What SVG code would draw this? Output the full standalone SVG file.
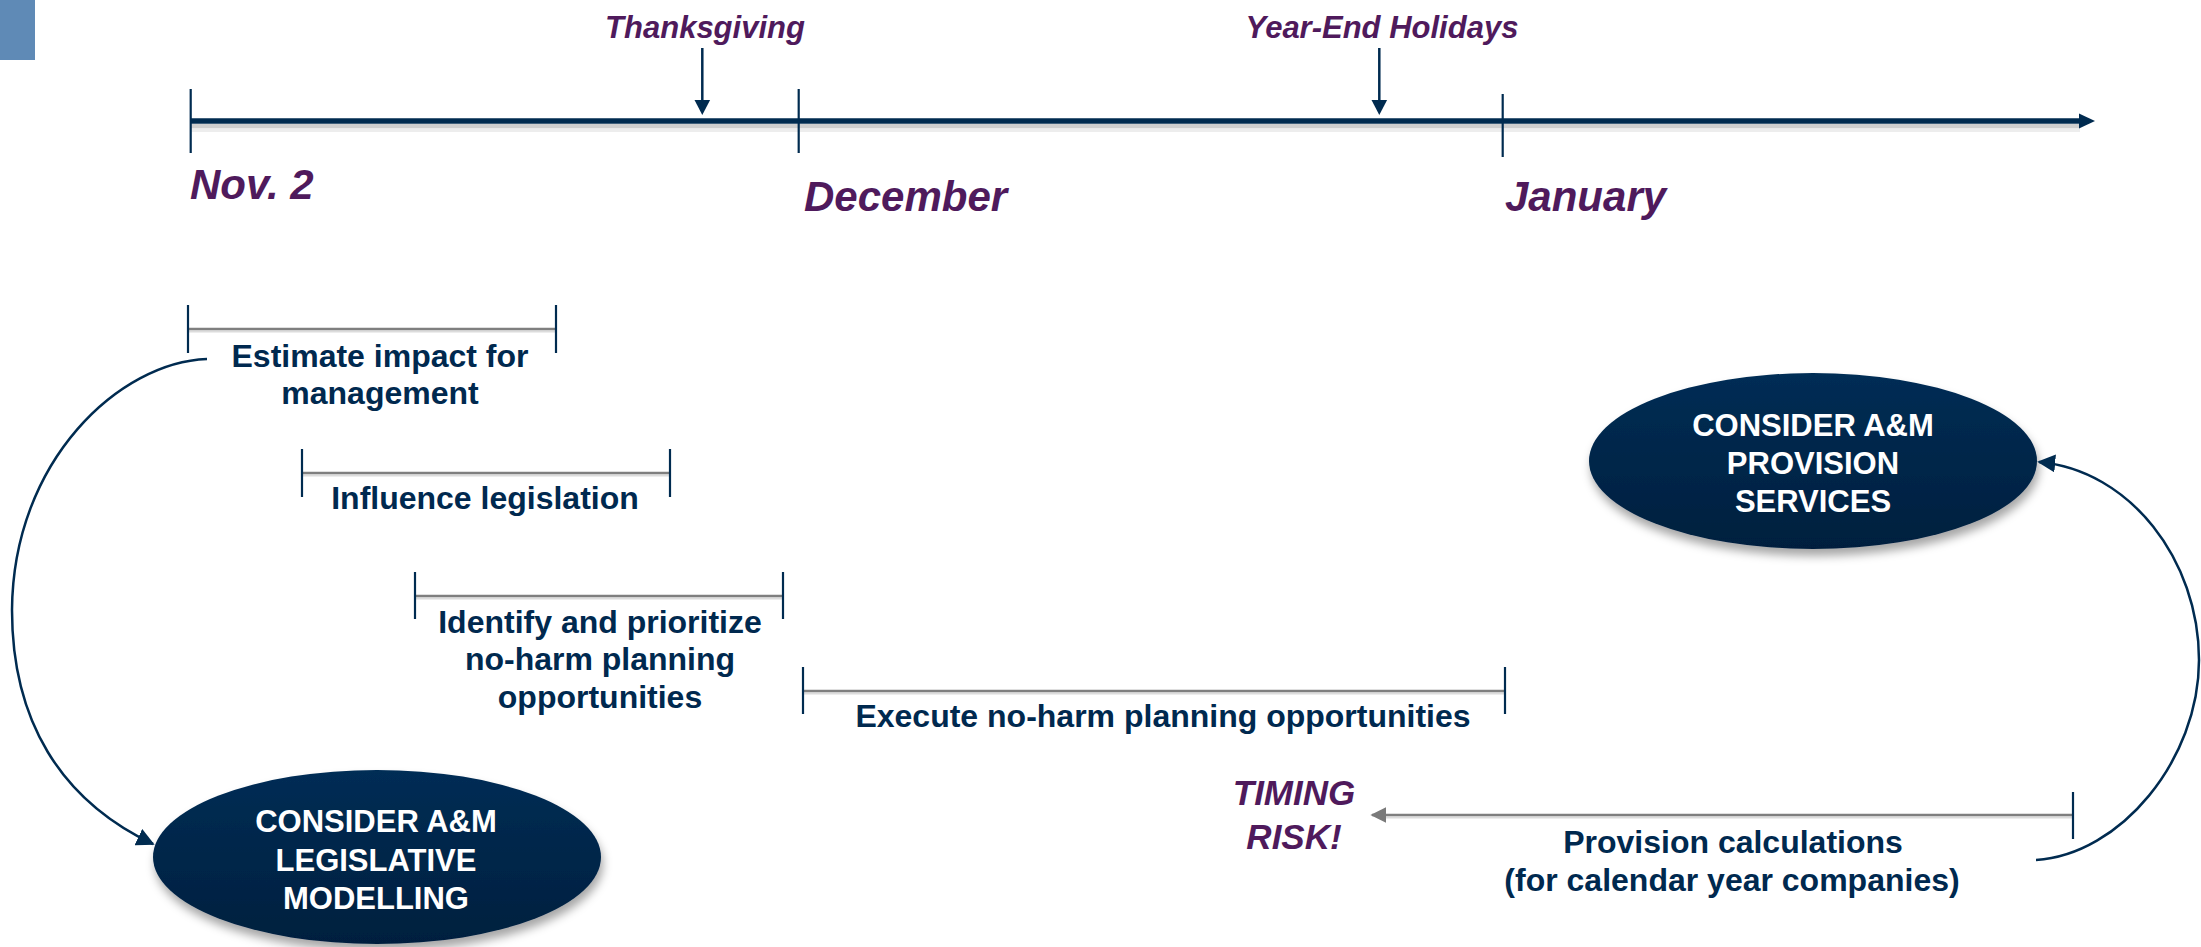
<svg xmlns="http://www.w3.org/2000/svg" width="2201" height="947" viewBox="0 0 2201 947">
  <defs>
    <linearGradient id="ellGrad" x1="0" y1="0" x2="0" y2="1">
      <stop offset="0" stop-color="#032d55"/>
      <stop offset="1" stop-color="#011f3e"/>
    </linearGradient>
    <filter id="shadow" x="-20%" y="-20%" width="140%" height="150%">
      <feDropShadow dx="2" dy="7" stdDeviation="5" flood-color="#000" flood-opacity="0.35"/>
    </filter>
    <marker id="navyHead" viewBox="0 0 10 10" refX="9" refY="5" markerWidth="18" markerHeight="18" markerUnits="userSpaceOnUse" orient="auto">
      <path d="M0,0 L10,5 L0,10 Z" fill="#002b50"/>
    </marker>
    <marker id="grayHead" viewBox="0 0 10 10" refX="9" refY="5" markerWidth="16" markerHeight="16" markerUnits="userSpaceOnUse" orient="auto">
      <path d="M0,0 L10,5 L0,10 Z" fill="#7a7a7a"/>
    </marker>
  </defs>
  <style>
    .date { font-family: "Liberation Sans", Arial, sans-serif; font-weight: bold; font-style: italic; fill: #4f1a5c; }
    .task { font-family: "Liberation Sans", Arial, sans-serif; font-weight: bold; font-size: 32px; fill: #00294f; text-anchor: middle; }
    .node { font-family: "Liberation Sans", Arial, sans-serif; font-weight: bold; font-size: 31px; fill: #ffffff; text-anchor: middle; }
    .tick { stroke: #002b50; stroke-width: 2.2; }
    .bar { stroke: #7f7f7f; stroke-width: 2.5; }
    .barShadow { stroke: #dcdcdc; stroke-width: 2; }
    .curve { fill: none; stroke: #002b50; stroke-width: 2.5; }
  </style>

  <rect x="0" y="0" width="35" height="60" fill="#5f8ab6"/>

  <!-- Timeline axis -->
  <g id="timeline">
    <rect x="190" y="124" width="1890" height="4.5" fill="#cfcfcf"/>
    <rect x="190" y="128.5" width="1890" height="3.5" fill="#ededed"/>
    <line x1="190" y1="121" x2="2081" y2="121" stroke="#002b50" stroke-width="5.5"/>
    <path d="M2079,113.5 L2095,121 L2079,128.5 Z" fill="#002b50"/>
    <line class="tick" x1="190.7" y1="89" x2="190.7" y2="153"/>
    <line class="tick" x1="798.7" y1="89" x2="798.7" y2="153"/>
    <line class="tick" x1="1502.7" y1="94" x2="1502.7" y2="157"/>
    <line x1="702.3" y1="48" x2="702.3" y2="102" stroke="#002b50" stroke-width="2.5"/>
    <path d="M694.5,100 L710.1,100 L702.3,115 Z" fill="#002b50"/>
    <line x1="1379.3" y1="48" x2="1379.3" y2="102" stroke="#002b50" stroke-width="2.5"/>
    <path d="M1371.5,100 L1387.1,100 L1379.3,115 Z" fill="#002b50"/>
  </g>

  <g id="labels">
    <text class="date" x="705" y="38" font-size="31" text-anchor="middle">Thanksgiving</text>
    <text class="date" x="1382" y="38" font-size="31" text-anchor="middle">Year-End Holidays</text>
    <text class="date" x="190" y="199" font-size="42">Nov. 2</text>
    <text class="date" x="804" y="211" font-size="42">December</text>
    <text class="date" x="1505" y="211" font-size="42">January</text>
  </g>

  <!-- Task bars -->
  <g id="task-estimate">
    <line class="barShadow" x1="188" y1="331.5" x2="556" y2="331.5"/>
    <line class="bar" x1="188" y1="329" x2="556" y2="329"/>
    <line class="tick" x1="188" y1="305" x2="188" y2="353"/>
    <line class="tick" x1="556" y1="305" x2="556" y2="353"/>
    <text class="task" x="380" y="367">Estimate impact for</text>
    <text class="task" x="380" y="404">management</text>
  </g>
  <g id="task-influence">
    <line class="barShadow" x1="302" y1="475.5" x2="670" y2="475.5"/>
    <line class="bar" x1="302" y1="473" x2="670" y2="473"/>
    <line class="tick" x1="302" y1="449" x2="302" y2="497"/>
    <line class="tick" x1="670" y1="449" x2="670" y2="497"/>
    <text class="task" x="485" y="509">Influence legislation</text>
  </g>
  <g id="task-identify">
    <line class="barShadow" x1="415" y1="598.5" x2="783" y2="598.5"/>
    <line class="bar" x1="415" y1="596" x2="783" y2="596"/>
    <line class="tick" x1="415" y1="572" x2="415" y2="619"/>
    <line class="tick" x1="783" y1="572" x2="783" y2="619"/>
    <text class="task" x="600" y="632.5">Identify and prioritize</text>
    <text class="task" x="600" y="670">no-harm planning</text>
    <text class="task" x="600" y="707.5">opportunities</text>
  </g>
  <g id="task-execute">
    <line class="barShadow" x1="803" y1="693.5" x2="1505" y2="693.5"/>
    <line class="bar" x1="803" y1="691" x2="1505" y2="691"/>
    <line class="tick" x1="803" y1="667" x2="803" y2="714"/>
    <line class="tick" x1="1505" y1="667" x2="1505" y2="714"/>
    <text class="task" x="1163" y="727">Execute no-harm planning opportunities</text>
  </g>
  <g id="task-provision">
    <line class="barShadow" x1="1386" y1="817.5" x2="2073" y2="817.5"/>
    <line class="bar" x1="2073" y1="815" x2="1372" y2="815" marker-end="url(#grayHead)"/>
    <line class="tick" x1="2073" y1="792" x2="2073" y2="839"/>
    <text class="task" x="1733" y="853">Provision calculations</text>
    <text class="task" x="1732" y="891">(for calendar year companies)</text>
  </g>
  <g id="timing-risk">
    <text class="date" x="1294" y="805" font-size="35" text-anchor="middle">TIMING</text>
    <text class="date" x="1294" y="849" font-size="35" text-anchor="middle">RISK!</text>
  </g>

  <!-- Nodes -->
  <g id="node-legislative">
    <ellipse cx="377" cy="857" rx="224" ry="87" fill="url(#ellGrad)" filter="url(#shadow)"/>
    <text class="node" x="376" y="832">CONSIDER A&amp;M</text>
    <text class="node" x="376" y="870.5">LEGISLATIVE</text>
    <text class="node" x="376" y="909">MODELLING</text>
  </g>
  <g id="node-provision">
    <ellipse cx="1813" cy="461" rx="224" ry="88" fill="url(#ellGrad)" filter="url(#shadow)"/>
    <text class="node" x="1813" y="436">CONSIDER A&amp;M</text>
    <text class="node" x="1813" y="474">PROVISION</text>
    <text class="node" x="1813" y="512">SERVICES</text>
  </g>

  <!-- Connectors -->
  <g id="connectors">
    <path class="curve" d="M207,359 C120,362 13,460 12,610 C12,720 60,800 153,844" marker-end="url(#navyHead)"/>
    <path class="curve" d="M2036,860 C2120,855 2199,760 2199,660 C2199,560 2130,470 2039,462" marker-end="url(#navyHead)"/>
  </g>
</svg>
